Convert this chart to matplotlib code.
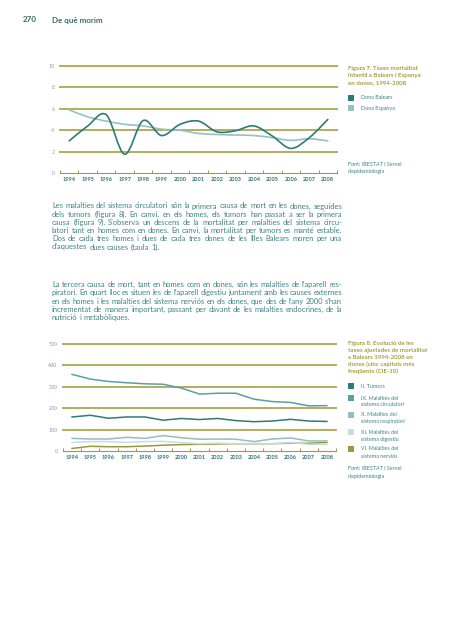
import numpy as np
import matplotlib
matplotlib.use("Agg")
import matplotlib.pyplot as plt
from matplotlib.path import Path
from matplotlib.patches import PathPatch, Rectangle

plt.rcParams['font.family'] = ['Lato', 'DejaVu Sans']

# ---------------- data ----------------
years = ["1994", "1995", "1996", "1997", "1998", "1999", "2000", "2001",
         "2002", "2003", "2004", "2005", "2006", "2007", "2008"]

dona_balears = [3.0, 4.4, 5.45, 1.75, 4.9, 3.5, 4.55, 4.85, 3.85, 3.95, 4.4, 3.45, 2.3, 3.3, 5.0]
dona_espanya = [5.9, 5.25, 4.85, 4.55, 4.4, 4.1, 4.0, 3.7, 3.6, 3.55, 3.5, 3.3, 3.05, 3.2, 3.0]

tumors = [159, 167, 153, 159, 159, 144, 152, 147, 152, 142, 137, 140, 148, 140, 138]
circulatori = [358, 336, 325, 319, 314, 312, 294, 266, 270, 270, 242, 231, 227, 211, 212]
respiratori = [59, 56, 56, 64, 59, 72, 62, 55, 56, 55, 44, 56, 61, 47, 47]
digestiu = [40, 44, 44, 40, 44, 45, 39, 34, 37, 34, 33, 34, 40, 31, 31]
nervios = [12, 22, 20, 20, 23, 27, 30, 31, 33, 34, 34, 34, 37, 36, 40]

yticks1 = [0, 2, 4, 6, 8, 10]
yticks2 = [0, 100, 200, 300, 400, 500]

# ---------------- style ----------------
W, H = 453, 640
C_BAL = "#2e7b79"
C_ESP = "#93c2bf"
C_TUM = "#2e7b79"
C_CIR = "#5b9fa1"
C_RES = "#94bfbf"
C_DIG = "#c6dfdf"
C_NER = "#969a3e"
C_GRID = "#b3ad5c"
C_AXIS = "#9f9a45"
C_TXT = "#3f8286"
C_YEAR = "#2e7074"
C_YLAB = "#8aa3a3"
C_CAP = "#a39f3e"
C_HEAD = "#3d6b70"

fig = plt.figure(figsize=(W / 100, H / 100), dpi=100)


def fx(x):
    return x / W


def fy(y):
    return 1 - y / H


def smooth_path(xs, ys):
    xs = np.asarray(xs, float)
    ys = np.asarray(ys, float)
    pts = np.column_stack([xs, ys])
    n = len(pts)
    verts = [pts[0]]
    codes = [Path.MOVETO]
    for i in range(n - 1):
        p0 = pts[i - 1] if i > 0 else pts[i]
        p1 = pts[i]
        p2 = pts[i + 1]
        p3 = pts[i + 2] if i + 2 < n else pts[i + 1]
        c1 = p1 + (p2 - p0) / 6.0
        c2 = p2 - (p3 - p1) / 6.0
        verts += [c1, c2, p2]
        codes += [Path.CURVE4] * 3
    return Path(verts, codes)


def setup_axes(ax, yticks):
    n = len(years)
    ax.set_xlim(-0.5, n - 0.5)
    ax.set_ylim(yticks[0], yticks[-1])
    for s in ["top", "right", "left"]:
        ax.spines[s].set_visible(False)
    ax.spines["bottom"].set_color(C_AXIS)
    ax.spines["bottom"].set_linewidth(0.8)
    for v in yticks[1:]:
        ax.axhline(v, color=C_GRID, lw=1.4, clip_on=False, zorder=1)
    ax.set_yticks(yticks)
    ax.set_yticklabels([str(v) for v in yticks], fontsize=3.8, color=C_YLAB)
    ax.tick_params(axis="y", length=0, pad=4)
    ax.set_xticks(range(n))
    ax.set_xticklabels(years, fontsize=4.0, color=C_YEAR, fontweight="bold")
    ax.set_xticks(np.arange(-0.5, n, 1.0), minor=True)
    ax.tick_params(axis="x", which="major", length=0, pad=3)
    ax.tick_params(axis="x", which="minor", length=2.2, width=0.7,
                   direction="in", color=C_AXIS)
    ax.set_facecolor("none")


# ---------------- header ----------------
fig.text(fx(23), fy(20), "270", fontsize=5.8, fontweight="bold", color=C_HEAD, va="center")
fig.text(fx(52), fy(20), "De què morim", fontsize=5.8, fontweight="bold", color=C_HEAD, va="center")

# ---------------- chart 1 ----------------
ax1 = fig.add_axes([fx(60), fy(173), 277 / W, 107 / H])
setup_axes(ax1, yticks1)
xs = np.arange(len(years))
ax1.add_patch(PathPatch(smooth_path(xs, dona_espanya), fill=False, edgecolor=C_ESP,
                        lw=1.2, zorder=3, capstyle="round"))
ax1.add_patch(PathPatch(smooth_path(xs, dona_balears), fill=False, edgecolor=C_BAL,
                        lw=1.2, zorder=4, capstyle="round"))

cap1 = ["Figura 7. Taxes mortalitat", "infantil a Balears i Espanya", "en dones, 1994-2008"]
for i, t in enumerate(cap1):
    fig.text(fx(348), fy(68.5 + i * 7.2), t, fontsize=4.4, fontweight="bold", color=C_CAP, va="center")

leg1 = [("Dona Balears", C_BAL), ("Dona Espanya", C_ESP)]
for i, (lab, c) in enumerate(leg1):
    yc = 97.7 + i * 10.5
    fig.patches.append(Rectangle((fx(348), fy(yc + 3)), 6 / W, 6 / H, transform=fig.transFigure,
                                 facecolor=c, edgecolor="none"))
    fig.text(fx(361), fy(yc), lab, fontsize=3.9, color=C_TXT, va="center")

for i, t in enumerate(["Font: IBESTAT i Servei", "d’epidemiologia"]):
    fig.text(fx(348), fy(164 + i * 7.5), t, fontsize=3.9, color=C_TXT, va="center")

# ---------------- paragraphs ----------------
renderer = fig.canvas.get_renderer()


def justify(lines, x0, x1, y0, dy, size, color):
    for i, line in enumerate(lines):
        y = y0 + i * dy
        words = line.split(" ")
        texts = [fig.text(0, fy(y), w, fontsize=size, color=color, va="center", ha="left")
                 for w in words]
        widths = [t.get_window_extent(renderer).width for t in texts]
        if i == len(lines) - 1 or len(words) == 1:
            gap = size * 0.26 * 100 / 72
        else:
            gap = (x1 - x0 - sum(widths)) / (len(words) - 1)
        x = x0
        for t, w in zip(texts, widths):
            t.set_x(fx(x))
            x += w + gap


par1 = [
    "Les malalties del sistema circulatori són la primera causa de mort en les dones, seguides",
    "dels tumors (figura 8). En canvi, en els homes, els tumors han passat a ser la primera",
    "causa (figura 9). S’observa un descens de la mortalitat per malalties del sistema circu-",
    "latori tant en homes com en dones. En canvi, la mortalitat per tumors es manté estable.",
    "Dos de cada tres homes i dues de cada tres dones de les Illes Balears moren per una",
    "d’aquestes dues causes (taula 1).",
]
par2 = [
    "La tercera causa de mort, tant en homes com en dones, són les malalties de l’aparell res-",
    "piratori. En quart lloc es situen les de l’aparell digestiu juntament amb les causes externes",
    "en els homes i les malalties del sistema nerviós en els dones, que des de l’any 2000 s’han",
    "incrementat de manera important, passant per davant de les malalties endocrines, de la",
    "nutrició i metabòliques.",
]
justify(par1, 52, 342, 206, 8.2, 5.4, C_TXT)
justify(par2, 52, 342, 284.7, 8.2, 5.4, C_TXT)

# ---------------- chart 2 ----------------
ax2 = fig.add_axes([fx(63), fy(451), 273 / W, 107 / H])
setup_axes(ax2, yticks2)
series2 = [(nervios, C_NER), (digestiu, C_DIG), (respiratori, C_RES),
           (tumors, C_TUM), (circulatori, C_CIR)]
for vals, c in series2:
    ax2.plot(xs, vals, color=c, lw=1.1, zorder=3, solid_joinstyle="round")

cap2 = ["Figura 8. Evolució de les", "taxes ajustades de mortalitat", "a Balears 1994-2008 en",
        "dones (cinc capítols més", "freqüents (CIE-10)"]
for i, t in enumerate(cap2):
    fig.text(fx(348), fy(343.5 + i * 7.0), t, fontsize=4.4, fontweight="bold", color=C_CAP, va="center")

leg2 = [(["II. Tumors"], C_TUM, 386),
        (["IX. Malalties del", "sistema circulatori"], C_CIR, 398),
        (["X. Malalties del", "sistema respiratori"], C_RES, 414.5),
        (["XI. Malalties del", "sistema digestiu"], C_DIG, 432),
        (["VI. Malalties del", "sistema nerviós"], C_NER, 449)]
for labs, c, yc in leg2:
    fig.patches.append(Rectangle((fx(348), fy(yc + 3)), 6 / W, 6 / H, transform=fig.transFigure,
                                 facecolor=c, edgecolor="none"))
    for j, lab in enumerate(labs):
        fig.text(fx(361), fy(yc + j * 7.0), lab, fontsize=3.9, color=C_TXT, va="center")

for i, t in enumerate(["Font: IBESTAT i Servei", "d’epidemiologia"]):
    fig.text(fx(348), fy(469 + i * 7.5), t, fontsize=3.9, color=C_TXT, va="center")

fig.savefig("out.png", dpi=100)
